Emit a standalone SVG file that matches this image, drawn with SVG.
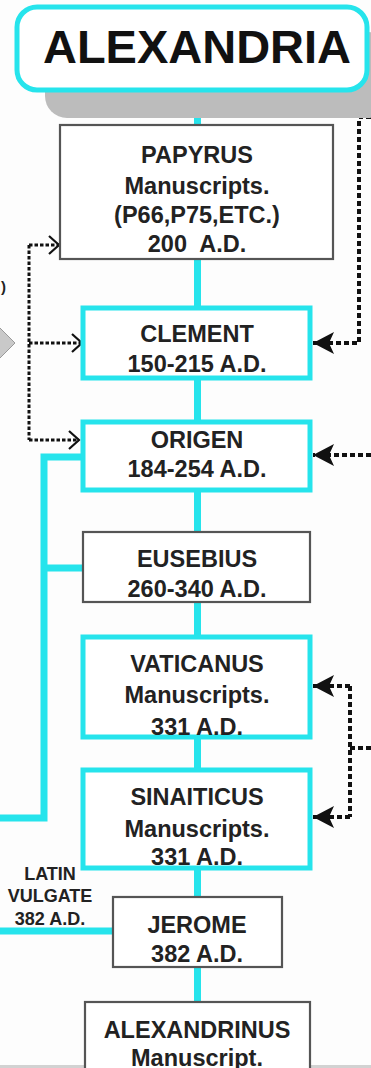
<svg xmlns="http://www.w3.org/2000/svg" width="371" height="1068" viewBox="0 0 371 1068">
<style>
text{font-family:"Liberation Sans",Arial,sans-serif;font-weight:bold;fill:#222;text-anchor:middle;white-space:pre}
.t{font-size:23.5px}
.s{font-size:18px}
.cy{fill:#fff;stroke:#26e4ec;stroke-width:5}
.gr{fill:#fff;stroke:#555;stroke-width:2.2}
.cl{stroke:#26e4ec;stroke-width:7;fill:none}
.dl{stroke:#111;stroke-width:3;stroke-dasharray:3.5 2;fill:none}
.dr{stroke:#111;stroke-width:4;stroke-dasharray:5 3;fill:none}
</style>
<defs>
<marker id="open" markerUnits="userSpaceOnUse" markerWidth="14" markerHeight="22" viewBox="0 0 14 22" refX="12" refY="11" orient="auto">
<path d="M2,2 L12,11 L2,20" fill="none" stroke="#111" stroke-width="2.2"/>
</marker>
<marker id="fill" markerUnits="userSpaceOnUse" markerWidth="21" markerHeight="22" viewBox="0 0 21 22" refX="21" refY="11" orient="auto">
<path d="M0,0 L21,11 L0,22 L5,11 z" fill="#111"/>
</marker>
</defs>
<rect width="371" height="1068" fill="#fdfdfd"/>
<rect x="0" y="1065" width="371" height="3" fill="#d2d2d2"/>
<g id="connectors">
<line class="cl" x1="197.5" y1="88" x2="197.5" y2="1004"/>
<polyline class="cl" points="83,457 44,457 44,818 0,818"/>
<line class="cl" x1="44" y1="568" x2="83" y2="568"/>
<line class="cl" x1="0" y1="931" x2="113" y2="931"/>
<line class="dl" x1="29" y1="245" x2="29" y2="440"/>
<line class="dl" x1="29" y1="245" x2="59" y2="245" marker-end="url(#open)"/>
<line class="dl" x1="29" y1="343" x2="82" y2="343" marker-end="url(#open)"/>
<line class="dl" x1="29" y1="440" x2="79" y2="440" marker-end="url(#open)"/>
<polyline class="dr" points="371,117 359,117 359,343 313,343" marker-end="url(#fill)"/>
<line class="dr" x1="371" y1="455" x2="313" y2="455" marker-end="url(#fill)"/>
<line class="dr" x1="350" y1="686" x2="350" y2="817"/>
<line class="dr" x1="350" y1="686" x2="313" y2="686" marker-end="url(#fill)"/>
<line class="dr" x1="350" y1="817" x2="313" y2="817" marker-end="url(#fill)"/>
<line class="dr" x1="350" y1="748" x2="371" y2="748"/>
</g>
<g id="alexandria">
<rect x="45" y="32" width="345" height="86" rx="22" fill="#bcbcbc"/>
<rect x="17" y="7" width="350" height="83" rx="20" class="cy"/>
<text x="197" y="63" style="font-size:47px;fill:#111">ALEXANDRIA</text>
</g>
<g id="diamond">
<polygon points="15,343 -10,318 -35,343 -10,368" fill="#c9c9c9" stroke="#9a9a9a" stroke-width="1"/>
<text x="1" y="292" style="font-size:15px;text-anchor:start">)</text>
</g>
<g id="papyrus">
<rect x="60" y="125" width="273" height="134" class="gr"/>
<text class="t" x="197" y="163">PAPYRUS</text>
<text class="t" x="197" y="194">Manuscripts.</text>
<text class="t" x="197" y="223">(P66,P75,ETC.)</text>
<text class="t" x="197" y="252">200  A.D.</text>
</g>
<g id="clement">
<rect x="83" y="308" width="227" height="70" class="cy"/>
<text class="t" x="197" y="342">CLEMENT</text>
<text class="t" x="197" y="372">150-215 A.D.</text>
</g>
<g id="origen">
<rect x="83" y="422" width="227" height="68" class="cy"/>
<text class="t" x="197" y="448">ORIGEN</text>
<text class="t" x="197" y="477">184-254 A.D.</text>
</g>
<g id="eusebius">
<rect x="83" y="532" width="227" height="70" class="gr"/>
<text class="t" x="197" y="567">EUSEBIUS</text>
<text class="t" x="197" y="597">260-340 A.D.</text>
</g>
<g id="vaticanus">
<rect x="83" y="637" width="227" height="100" class="cy"/>
<text class="t" x="197" y="672">VATICANUS</text>
<text class="t" x="197" y="703">Manuscripts.</text>
<text class="t" x="197" y="735">331 A.D.</text>
</g>
<g id="sinaiticus">
<rect x="83" y="770" width="227" height="98" class="cy"/>
<text class="t" x="197" y="805">SINAITICUS</text>
<text class="t" x="197" y="837">Manuscripts.</text>
<text class="t" x="197" y="865">331 A.D.</text>
</g>
<g id="latin-vulgate">
<text class="s" x="50" y="880">LATIN</text>
<text class="s" x="50" y="902">VULGATE</text>
<text class="s" x="50" y="925">382 A.D.</text>
</g>
<g id="jerome">
<rect x="113" y="897" width="169" height="70" class="gr"/>
<text class="t" x="197" y="933">JEROME</text>
<text class="t" x="197" y="962">382 A.D.</text>
</g>
<g id="alexandrinus">
<rect x="85" y="1002" width="225" height="80" class="gr"/>
<text class="t" x="197" y="1038">ALEXANDRINUS</text>
<text class="t" x="197" y="1066">Manuscript.</text>
</g>
</svg>
